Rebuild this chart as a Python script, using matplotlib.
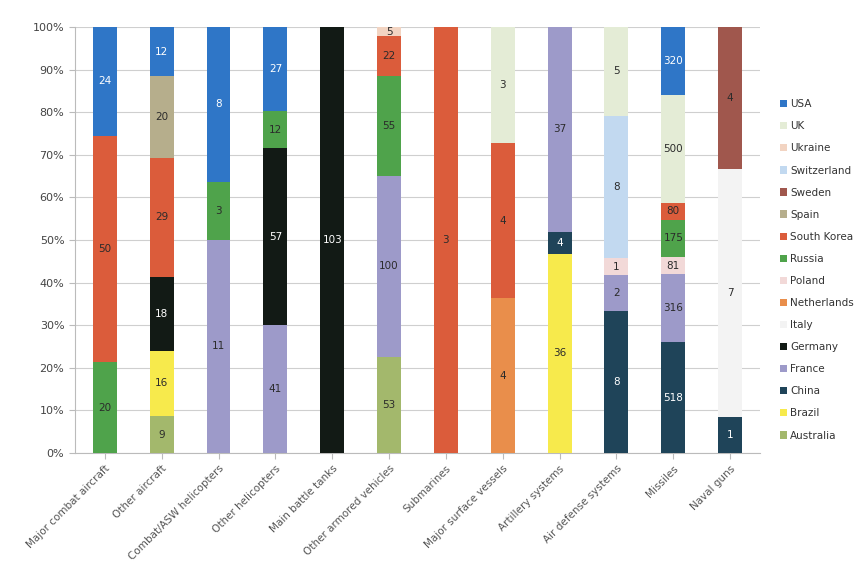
import numpy as np
import matplotlib.pyplot as plt
from matplotlib.ticker import PercentFormatter

categories = ['Major combat aircraft', 'Other aircraft', 'Combat/ASW helicopters',
              'Other helicopters', 'Main battle tanks', 'Other armored vehicles',
              'Submarines', 'Major surface vessels', 'Artillery systems',
              'Air defense systems', 'Missiles', 'Naval guns']

# stack order, bottom to top
countries = ['Australia', 'Brazil', 'China', 'France', 'Germany', 'Italy',
             'Netherlands', 'Poland', 'Russia', 'South Korea', 'Spain', 'Sweden',
             'Switzerland', 'Ukraine', 'UK', 'USA']

australia   = [0, 9, 0, 0, 0, 53, 0, 0, 0, 0, 0, 0]
brazil      = [0, 16, 0, 0, 0, 0, 0, 0, 36, 0, 0, 0]
china       = [0, 0, 0, 0, 0, 0, 0, 0, 4, 8, 518, 1]
france      = [0, 0, 11, 41, 0, 100, 0, 0, 37, 2, 316, 0]
germany     = [0, 18, 0, 57, 103, 0, 0, 0, 0, 0, 0, 0]
italy       = [0, 0, 0, 0, 0, 0, 0, 0, 0, 0, 0, 7]
netherlands = [0, 0, 0, 0, 0, 0, 0, 4, 0, 0, 0, 0]
poland      = [0, 0, 0, 0, 0, 0, 0, 0, 0, 1, 81, 0]
russia      = [20, 0, 3, 12, 0, 55, 0, 0, 0, 0, 175, 0]
south_korea = [50, 29, 0, 0, 0, 22, 3, 4, 0, 0, 80, 0]
spain       = [0, 20, 0, 0, 0, 0, 0, 0, 0, 0, 0, 0]
sweden      = [0, 0, 0, 0, 0, 0, 0, 0, 0, 0, 0, 4]
switzerland = [0, 0, 0, 0, 0, 0, 0, 0, 0, 8, 0, 0]
ukraine     = [0, 0, 0, 0, 0, 5, 0, 0, 0, 0, 0, 0]
uk          = [0, 0, 0, 0, 0, 0, 0, 3, 0, 5, 500, 0]
usa         = [24, 12, 8, 27, 0, 0, 0, 0, 0, 0, 320, 0]

series = [australia, brazil, china, france, germany, italy, netherlands, poland,
          russia, south_korea, spain, sweden, switzerland, ukraine, uk, usa]

colors = ['#a3b86c', '#f7ea4c', '#1f4459', '#9d9ac9', '#121a15', '#f3f3f3',
          '#e98e4b', '#f2d9d8', '#4fa34b', '#db5c3b', '#b6ae8c', '#a0574d',
          '#c2d9f0', '#f2d4c2', '#e4ecd6', '#2f76c7']
white_text = {'China', 'Germany', 'USA'}

data = np.array(series, dtype=float)
totals = data.sum(axis=0)
pct = data / totals * 100

fig = plt.figure(figsize=(8.59, 5.62), dpi=100)
ax = fig.add_axes([0.087, 0.194, 0.798, 0.758])

x = np.arange(len(categories))
bottom = np.zeros(len(categories))
handles = []
for name, vals, p, c in zip(countries, data, pct, colors):
    b = ax.bar(x, p, 0.42, bottom=bottom, color=c, label=name, zorder=3)
    handles.append(b)
    tc = 'white' if name in white_text else '#2b2b2b'
    for i in range(len(x)):
        if vals[i] > 0:
            ax.text(x[i], bottom[i] + p[i] / 2, '%d' % vals[i], ha='center',
                    va='center', fontsize=7.5, color=tc, zorder=4)
    bottom += p

ax.set_ylim(0, 100)
ax.set_xlim(-0.53, 11.53)
ax.set_yticks(np.arange(0, 101, 10))
ax.yaxis.set_major_formatter(PercentFormatter(decimals=0))
ax.set_xticks(x)
ax.set_xticklabels(categories, rotation=45, ha='right', rotation_mode='anchor',
                   fontsize=7.5, color='#555555')
ax.tick_params(axis='y', labelsize=8, colors='#444444', length=4, color='#bbbbbb')
ax.tick_params(axis='x', length=4, color='#bbbbbb')
ax.grid(axis='y', color='#cfcfcf', linewidth=0.8, zorder=0)
for s in ['top', 'right']:
    ax.spines[s].set_visible(False)
ax.spines['left'].set_color('#bbbbbb')
ax.spines['bottom'].set_color('#bbbbbb')

fig.legend(handles[::-1], countries[::-1], loc='upper left',
           bbox_to_anchor=(0.897, 0.84), frameon=False, fontsize=7.5,
           labelspacing=1.16, handlelength=0.7, handleheight=0.7,
           handletextpad=0.3, labelcolor='#333333')

fig.savefig('out.png', dpi=100)
